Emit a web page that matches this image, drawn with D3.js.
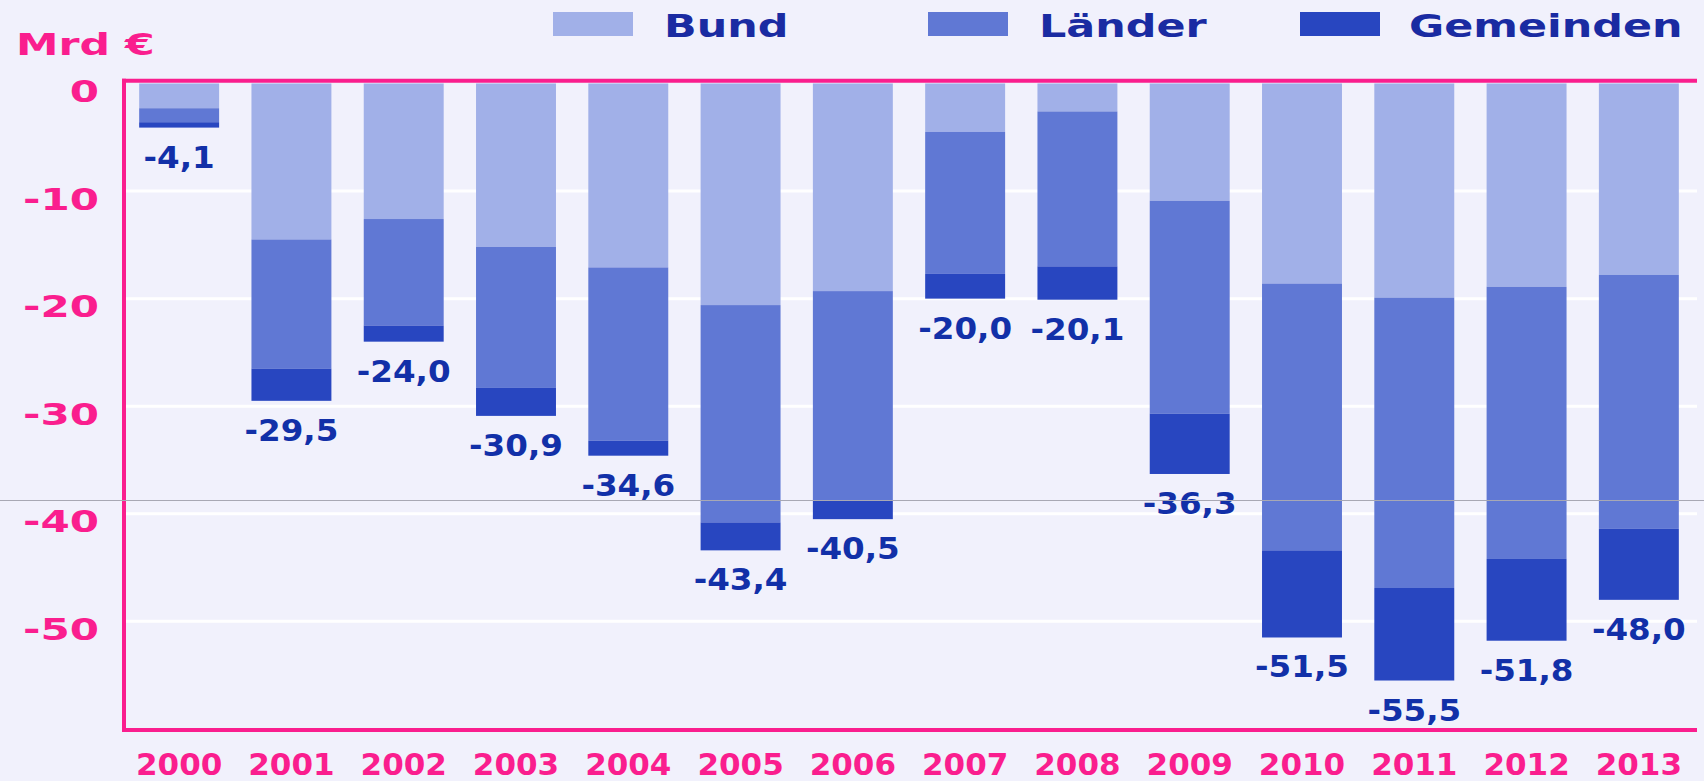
<!DOCTYPE html>
<html>
<head>
<meta charset="utf-8">
<script src="https://cdn.jsdelivr.net/npm/d3@7"></script>
<style>
  html, body { margin: 0; padding: 0; background: #F1F1FC; }
  svg { display: block; }
  text { font-family: "DejaVu Sans", sans-serif; font-weight: bold; }
</style>
</head>
<body>
<svg id="chart" width="1704" height="781"></svg>
<script>
// ---- Data ----
const years = ["2000","2001","2002","2003","2004","2005","2006","2007","2008","2009","2010","2011","2012","2013"];
const bund      = [-2.3, -14.5, -12.6, -15.2, -17.1, -20.6, -19.3, -4.5, -2.6, -10.9, -18.6, -19.9, -18.9, -17.8];
const laender   = [-1.3, -12.0,  -9.9, -13.1, -16.1, -20.2, -19.5, -13.2, -14.4, -19.8, -24.8, -27.0, -25.3, -23.6];
const gemeinden = [-0.5,  -3.0,  -1.5,  -2.6,  -1.4,  -2.6,  -1.7, -2.3, -3.1, -5.6, -8.1, -8.6, -7.6, -6.6];
const totals    = [-4.1, -29.5, -24.0, -30.9, -34.6, -43.4, -40.5, -20.0, -20.1, -36.3, -51.5, -55.5, -51.8, -48.0];
const seriesNames = ["Bund", "Länder", "Gemeinden"];
const yTicks = [0, -10, -20, -30, -40, -50];
const unitLabel = "Mrd €";

// ---- Styles ----
const colors = { "Bund": "#A1B0E8", "Länder": "#6078D4", "Gemeinden": "#2846C0" };
const pink = "#FA1E8E";
const labelBlue = "#1230A8";
const bg = "#F1F1FC";

const svg = d3.select("#chart");
svg.append("rect").attr("width", 1704).attr("height", 781).attr("fill", bg);

const x = d3.scaleBand().domain(years).range([123, 1695]).paddingInner(0.288).paddingOuter(0.144);
const y = d3.scaleLinear().domain([0.25, -60.1]).range([80.8, 730]);

const rows = years.map((yr, i) => ({ year: yr, "Bund": bund[i], "Länder": laender[i], "Gemeinden": gemeinden[i] }));
const stack = d3.stack().keys(seriesNames).offset(d3.stackOffsetDiverging);
const series = stack(rows);

const deLocale = d3.formatLocale({ decimal: ",", thousands: ".", grouping: [3], currency: ["", "€"], minus: "-" });
const deFormat = deLocale.format(".1f");

// gridlines
svg.append("g").selectAll("line")
  .data(yTicks.filter(t => t !== 0))
  .join("line")
  .attr("x1", 126).attr("x2", 1697)
  .attr("y1", d => y(d)).attr("y2", d => y(d))
  .attr("stroke", "#FFFFFF").attr("stroke-width", 3);

// bars
svg.append("g").selectAll("g")
  .data(series)
  .join("g")
  .attr("fill", d => colors[d.key])
  .selectAll("rect")
  .data(d => d)
  .join("rect")
  .attr("x", d => x(d.data.year))
  .attr("width", x.bandwidth())
  .attr("y", d => y(Math.max(d[0], d[1])))
  .attr("height", d => Math.abs(y(d[0]) - y(d[1])));

// total labels
const bottoms = years.map((yr, i) => bund[i] + laender[i] + gemeinden[i]);
svg.append("g").selectAll("text")
  .data(years)
  .join("text")
  .attr("transform", (d, i) => `translate(${x(d) + x.bandwidth() / 2},${y(bottoms[i]) + 40}) scale(1.05,1)`)
  .attr("text-anchor", "middle")
  .attr("font-size", 31)
  .attr("fill", labelBlue)
  .text((d, i) => deFormat(totals[i]));

// y axis (labels only)
const yAxis = d3.axisLeft(y).tickValues(yTicks).tickSize(0).tickPadding(0).tickFormat(d => String(d));
const gy = svg.append("g").attr("transform", "translate(99,0)").call(yAxis);
gy.select(".domain").remove();
gy.selectAll(".tick text")
  .attr("x", 0).attr("dy", null).attr("y", 18)
  .attr("transform", "scale(1.38,1)")
  .attr("text-anchor", "end")
  .attr("font-size", 30.5)
  .attr("font-family", "DejaVu Sans, sans-serif")
  .attr("font-weight", "bold")
  .attr("fill", pink);

// x axis labels
const xAxis = d3.axisBottom(x).tickSize(0).tickPadding(0);
const gx = svg.append("g").attr("transform", "translate(0,775)").call(xAxis);
gx.select(".domain").remove();
gx.selectAll(".tick text")
  .attr("y", 0).attr("dy", null)
  .attr("font-size", 31)
  .attr("font-family", "DejaVu Sans, sans-serif")
  .attr("font-weight", "bold")
  .attr("fill", pink);

// frame lines (pink)
const frame = svg.append("g").attr("stroke", pink).attr("stroke-width", 4).attr("fill", "none");
frame.append("line").attr("x1", 122).attr("x2", 1697).attr("y1", y(0.25) ).attr("y2", y(0.25));
frame.append("line").attr("x1", 122).attr("x2", 1697).attr("y1", y(-60.1)).attr("y2", y(-60.1));
frame.append("line").attr("x1", 124).attr("x2", 124).attr("y1", y(0.25) - 2).attr("y2", y(-60.1) + 2);

// unit label
svg.append("text")
  .attr("transform", "translate(16,55) scale(1.4,1)")
  .attr("font-size", 30.5)
  .attr("fill", pink)
  .text(unitLabel);

// legend
const legendPos = [
  { sx: 553, tx: 664 },
  { sx: 928, tx: 1039 },
  { sx: 1300, tx: 1409 }
];
const lg = svg.append("g");
seriesNames.forEach((name, i) => {
  lg.append("rect").attr("x", legendPos[i].sx).attr("y", 12).attr("width", 80).attr("height", 24).attr("fill", colors[name]);
  lg.append("text")
    .attr("transform", `translate(${legendPos[i].tx},37) scale(1.34,1)`)
    .attr("font-size", 32)
    .attr("fill", "#1A2BA2")
    .text(name);
});

// thin grey rule crossing the picture
svg.append("line").attr("x1", 0).attr("x2", 1704).attr("y1", 500.5).attr("y2", 500.5)
  .attr("stroke", "#A8A8B4").attr("stroke-width", 1);
</script>
</body>
</html>
